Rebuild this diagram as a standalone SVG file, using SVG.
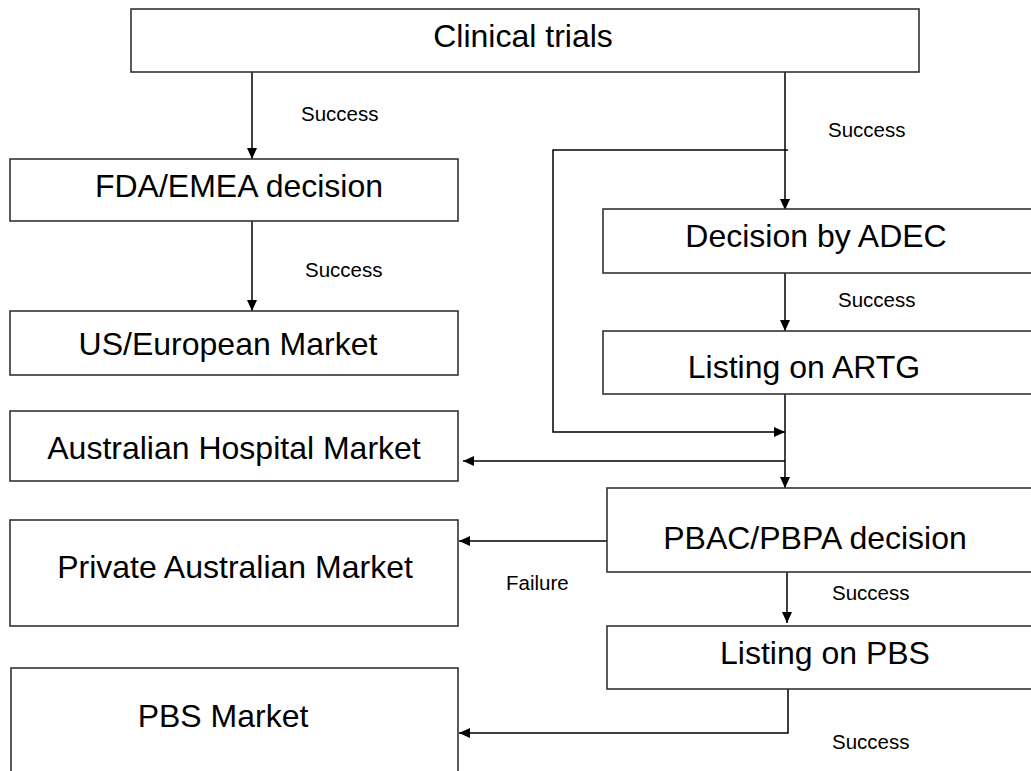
<svg xmlns="http://www.w3.org/2000/svg" width="1031" height="771" viewBox="0 0 1031 771">
<style>
.box{fill:#fff;stroke:#333;stroke-width:1.6}
.lbl{font-family:"Liberation Sans",Arial,sans-serif;font-size:32px;fill:#000;text-anchor:middle}
.sm{font-family:"Liberation Sans",Arial,sans-serif;font-size:20.5px;fill:#000}
.con{fill:none;stroke:#000;stroke-width:1.5}
</style>
<defs>
<marker id="arr" markerUnits="userSpaceOnUse" markerWidth="12" markerHeight="10" refX="11" refY="5" orient="auto">
<path d="M0,0 L11,5 L0,10 z" fill="#000"/>
</marker>
</defs>
<rect width="1031" height="771" fill="#fff"/>
<g id="connectors">
<line class="con" x1="252" y1="72" x2="252" y2="159" marker-end="url(#arr)"/>
<line class="con" x1="252" y1="221" x2="252" y2="311" marker-end="url(#arr)"/>
<line class="con" x1="785" y1="72" x2="785" y2="210" marker-end="url(#arr)"/>
<polyline class="con" points="788,150 553,150 553,432 785,432" marker-end="url(#arr)"/>
<line class="con" x1="785" y1="273" x2="785" y2="331" marker-end="url(#arr)"/>
<line class="con" x1="785" y1="394" x2="785" y2="488" marker-end="url(#arr)"/>
<line class="con" x1="785" y1="461" x2="463" y2="461" marker-end="url(#arr)"/>
<line class="con" x1="607" y1="541" x2="459" y2="541" marker-end="url(#arr)"/>
<line class="con" x1="787" y1="572" x2="787" y2="623" marker-end="url(#arr)"/>
<polyline class="con" points="788,689 788,733 459,733" marker-end="url(#arr)"/>
</g>
<g id="clinical"><rect class="box" x="131" y="9" width="788" height="63"/><text class="lbl" x="523" y="47">Clinical trials</text></g>
<g id="fda"><rect class="box" x="10" y="159" width="448" height="62"/><text class="lbl" x="239" y="197">FDA/EMEA decision</text></g>
<g id="us"><rect class="box" x="10" y="311" width="448" height="64"/><text class="lbl" x="228" y="355">US/European Market</text></g>
<g id="hospital"><rect class="box" x="10" y="411" width="448" height="70"/><text class="lbl" x="234" y="459">Australian Hospital Market</text></g>
<g id="private"><rect class="box" x="10" y="520" width="448" height="106"/><text class="lbl" x="235" y="578">Private Australian Market</text></g>
<g id="pbsmarket"><rect class="box" x="11" y="668" width="447" height="110"/><text class="lbl" x="223" y="727">PBS Market</text></g>
<g id="adec"><rect class="box" x="603" y="209" width="440" height="64"/><text class="lbl" x="816" y="247">Decision by ADEC</text></g>
<g id="artg"><rect class="box" x="603" y="331" width="440" height="63"/><text class="lbl" x="804" y="378">Listing on ARTG</text></g>
<g id="pbac"><rect class="box" x="607" y="488" width="436" height="84"/><text class="lbl" x="815" y="549">PBAC/PBPA decision</text></g>
<g id="pbs"><rect class="box" x="607" y="626" width="436" height="63"/><text class="lbl" x="825" y="664">Listing on PBS</text></g>
<g id="labels">
<text class="sm" x="301" y="121">Success</text>
<text class="sm" x="828" y="137">Success</text>
<text class="sm" x="305" y="277">Success</text>
<text class="sm" x="838" y="307">Success</text>
<text class="sm" x="506" y="590">Failure</text>
<text class="sm" x="832" y="600">Success</text>
<text class="sm" x="832" y="749">Success</text>
</g>
</svg>
